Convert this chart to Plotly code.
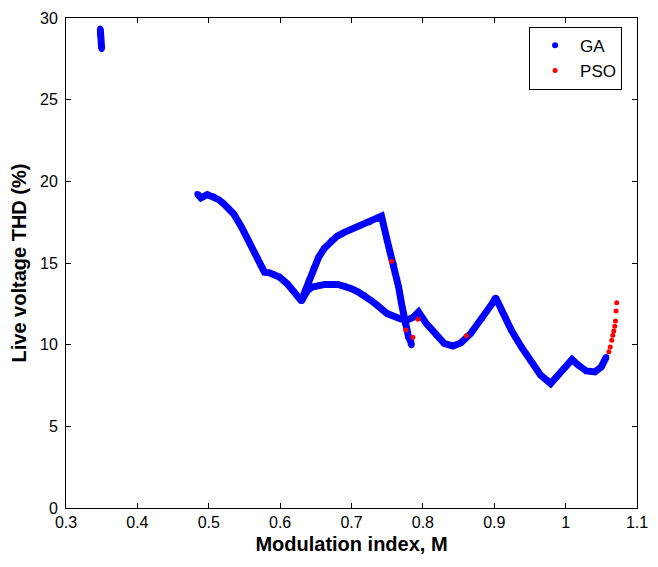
import plotly.graph_objects as go

# GA solutions: isolated cluster near M = 0.35
ga_cluster_m = [0.348, 0.348, 0.349, 0.349, 0.350]
ga_cluster_thd = [29.35, 29.0, 28.7, 28.4, 28.1]

# GA solutions: main curve, rising branch and steep drop
ga_upper_m = [0.484, 0.489, 0.498, 0.507, 0.514, 0.521, 0.528, 0.535, 0.546, 0.557,
              0.569, 0.578, 0.585, 0.592, 0.599, 0.610, 0.622, 0.630, 0.632, 0.636,
              0.640, 0.647, 0.654, 0.662, 0.672, 0.680, 0.690, 0.700, 0.713, 0.725,
              0.736, 0.742, 0.750, 0.759, 0.766, 0.771, 0.775, 0.780, 0.783, 0.784]
ga_upper_thd = [19.23, 18.99, 19.19, 19.07, 18.88, 18.62, 18.33, 18.00, 17.19, 16.27,
                15.26, 14.44, 14.40, 14.30, 14.14, 13.73, 13.12, 12.67, 12.95, 13.40,
                13.93, 14.70, 15.36, 15.90, 16.38, 16.65, 16.88, 17.07, 17.29, 17.50,
                17.70, 17.87, 16.38, 14.95, 13.53, 12.30, 11.29, 10.47, 10.20, 9.96]

# GA solutions: lower branch out to high modulation index
ga_lower_m = [0.630, 0.633, 0.638, 0.645, 0.655, 0.663, 0.681, 0.690, 0.700, 0.709,
              0.718, 0.727, 0.736, 0.750, 0.768, 0.777, 0.787, 0.794, 0.805, 0.819,
              0.830, 0.842, 0.853, 0.867, 0.883, 0.897, 0.902, 0.910, 0.924, 0.938,
              0.952, 0.965, 0.979, 0.988, 1.000, 1.009, 1.018, 1.029, 1.041, 1.050,
              1.057]
ga_lower_thd = [12.67, 13.00, 13.30, 13.53, 13.65, 13.69, 13.69, 13.60, 13.43, 13.23,
                13.02, 12.72, 12.41, 11.90, 11.59, 11.49, 11.69, 12.00, 11.29, 10.57,
                10.07, 9.92, 10.10, 10.68, 11.60, 12.51, 12.88, 12.10, 10.88, 9.86,
                8.94, 8.13, 7.62, 8.03, 8.64, 9.09, 8.74, 8.39, 8.33, 8.64,
                9.25]

# PSO solutions
pso_m = [0.756, 0.776, 0.786, 0.793, 0.861,
         1.0606, 1.0625, 1.0647, 1.0661, 1.0675, 1.0688, 1.0698, 1.0707, 1.0716]
pso_thd = [15.1, 10.9, 10.45, 11.55, 10.55,
           9.56, 9.86, 10.27, 10.57, 10.84, 11.13, 11.45, 12.06, 12.57]

x_ticks = [0.3, 0.4, 0.5, 0.6, 0.7, 0.8, 0.9, 1.0, 1.1]
x_tick_text = ["0.3", "0.4", "0.5", "0.6", "0.7", "0.8", "0.9", "1", "1.1"]
y_ticks = [0, 5, 10, 15, 20, 25, 30]

BLUE = "#0000ff"
RED = "#ff0000"

ga_m = ga_cluster_m + [None] + ga_upper_m + [None] + ga_lower_m
ga_thd = ga_cluster_thd + [None] + ga_upper_thd + [None] + ga_lower_thd

fig = go.Figure()

# dense GA point cloud rendered as a thick band
fig.add_trace(go.Scatter(
    x=ga_m, y=ga_thd, mode="lines", connectgaps=False,
    line=dict(color=BLUE, width=7), showlegend=False, hoverinfo="skip",
))
fig.add_trace(go.Scatter(
    x=ga_m, y=ga_thd, mode="markers", name="GA", legendrank=1,
    marker=dict(color=BLUE, size=6),
))
fig.add_trace(go.Scatter(
    x=pso_m, y=pso_thd, mode="markers", name="PSO", legendrank=2,
    marker=dict(color=RED, size=5),
))

FAMILY = "Liberation Sans, Arial, sans-serif"
axis_font = dict(family=FAMILY, size=16, color="black")
title_font = dict(family=FAMILY, size=20, color="black")

fig.update_layout(
    width=658, height=567,
    margin=dict(l=66, r=10, t=17, b=59),
    paper_bgcolor="white", plot_bgcolor="white",
    font=axis_font,
    legend=dict(
        x=0.811, y=0.982, xanchor="left", yanchor="top",
        bordercolor="black", borderwidth=1, bgcolor="white",
        font=dict(family=FAMILY, size=17, color="black"),
        itemwidth=40, tracegroupgap=0,
    ),
)

fig.update_xaxes(
    range=[0.3, 1.1], tickvals=x_ticks, ticktext=x_tick_text,
    ticks="inside", ticklen=5, tickcolor="black", ticklabeloverflow="allow",
    showline=True, linecolor="black", linewidth=1, mirror="ticks",
    showgrid=False, zeroline=False, tickfont=axis_font,
    title=dict(text="<b>Modulation index, M</b>", font=title_font, standoff=6),
)
fig.update_yaxes(
    range=[0, 30], tickvals=y_ticks,
    ticks="inside", ticklen=5, tickcolor="black", ticklabeloverflow="allow",
    showline=True, linecolor="black", linewidth=1, mirror="ticks",
    showgrid=False, zeroline=False, tickfont=axis_font, ticklabelstandoff=4,
    title=dict(text="<b>Live voltage THD (%)</b>", font=title_font, standoff=8),
)

fig.write_html("out.html")
